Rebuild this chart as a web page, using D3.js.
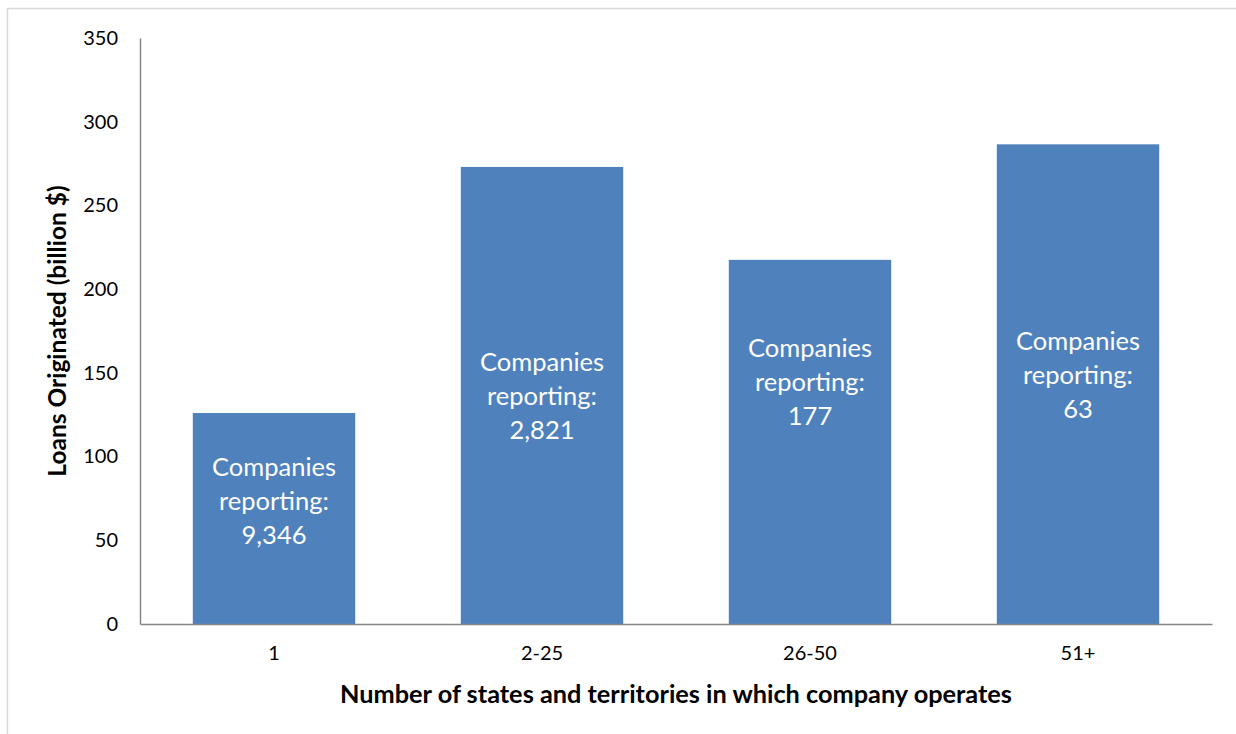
<!DOCTYPE html>
<html>
<head>
<meta charset="utf-8">
<script src="https://cdn.jsdelivr.net/npm/d3@7"></script>
<style>
  html, body { margin: 0; padding: 0; background: #fff; }
  svg { display: block; }
  text { font-family: Lato, "Open Sans", sans-serif; }
</style>
</head>
<body>
<svg id="chart" width="1236" height="734"></svg>
<script>
// Loans originated by number of states/territories in which the company operates
const categories = ["1", "2-25", "26-50", "51+"];
const loans = [126, 273, 217.5, 286.5];           // billion $
const companies = ["9,346", "2,821", "177", "63"]; // companies reporting
const labelAnchor = [73.5, 136, 144.5, 149];      // value level where each label block is centred
const yTicks = [0, 50, 100, 150, 200, 250, 300, 350];

const svg = d3.select("#chart");
const W = 1236, H = 734;
const margin = { left: 140, right: 24, top: 38, bottom: 110 };

// chart frame
svg.append("rect")
  .attr("x", 7.5).attr("y", 8.5)
  .attr("width", W - 6).attr("height", H - 6)
  .attr("fill", "#fff").attr("stroke", "#d9d9d9").attr("stroke-width", 1.5);

const x = d3.scaleBand()
  .domain(categories)
  .range([margin.left, W - margin.right])
  .paddingInner(0.394)
  .paddingOuter(0.197);

const y = d3.scaleLinear()
  .domain([0, 350])
  .range([H - margin.bottom, margin.top]);

// bars
svg.append("g").selectAll("rect")
  .data(categories)
  .join("rect")
  .attr("x", d => x(d))
  .attr("width", x.bandwidth())
  .attr("y", (d, i) => y(loans[i]))
  .attr("height", (d, i) => y(0) - y(loans[i]))
  .attr("fill", "#4f81bd");

// y axis
const yAxis = svg.append("g")
  .attr("transform", `translate(${margin.left},0)`)
  .call(d3.axisLeft(y).tickValues(yTicks).tickSize(0).tickPadding(22));
yAxis.select(".domain").attr("stroke", "#868686").attr("stroke-width", 1.5);
yAxis.selectAll("text").attr("font-size", 20).attr("fill", "#000");

// x axis
const xAxis = svg.append("g")
  .attr("transform", `translate(0,${y(0)})`)
  .call(d3.axisBottom(x).tickSize(0).tickPadding(22));
xAxis.select(".domain").attr("stroke", "#868686").attr("stroke-width", 1.5);
xAxis.selectAll("text").attr("font-size", 20).attr("fill", "#000");

// labels inside bars
const lineH = 34;
const labels = svg.append("g").selectAll("text")
  .data(categories)
  .join("text")
  .attr("text-anchor", "middle")
  .attr("fill", "#fff")
  .attr("font-size", 25.5)
  .attr("x", d => x(d) + x.bandwidth() / 2)
  .attr("y", (d, i) => y(labelAnchor[i]));
labels.each(function (d, i) {
  const t = d3.select(this);
  ["Companies", "reporting:", companies[i]].forEach((s, k) => {
    t.append("tspan")
      .attr("x", x(d) + x.bandwidth() / 2)
      .attr("dy", k === 0 ? -lineH + 9 : lineH)
      .text(s);
  });
});

// axis titles
svg.append("text")
  .attr("transform", `translate(66,${(y(0) + y(350)) / 2}) rotate(-90)`)
  .attr("text-anchor", "middle")
  .attr("font-size", 24.5)
  .attr("font-weight", "bold")
  .attr("fill", "#000")
  .text("Loans Originated (billion $)");

svg.append("text")
  .attr("x", 676)
  .attr("y", 703)
  .attr("text-anchor", "middle")
  .attr("font-size", 25.3)
  .attr("font-weight", "bold")
  .attr("fill", "#000")
  .text("Number of states and territories in which company operates");
</script>
</body>
</html>
